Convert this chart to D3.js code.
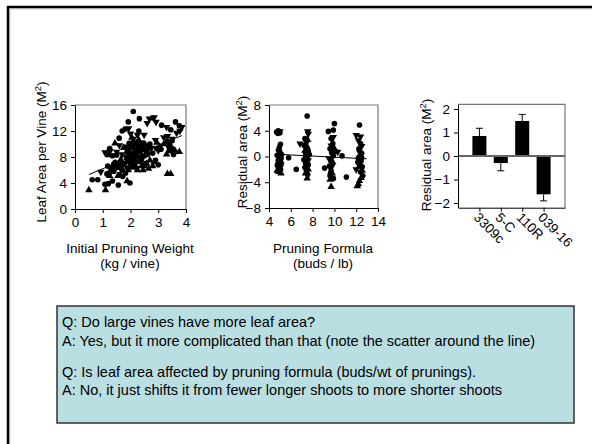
<!DOCTYPE html>
<html><head><meta charset="utf-8">
<script src="https://cdn.jsdelivr.net/npm/d3@7"></script>
<style>
body{margin:0;background:#fff;}
svg{display:block;font-family:"Liberation Sans",Arial,sans-serif;}
</style></head>
<body>
<svg id="c" width="592" height="444"></svg>
<script>
// ---------- DATA ----------
// Chart 1: Leaf area per vine vs initial pruning weight
const leafCircles = [[0.62,4.5],[0.82,4.5],[1.08,3.8],[1.2,3.9],[1.15,5.4],[1.25,5.6],[1.3,6.2],[1.4,5.8],[1.5,6.4],[1.56,3.7],[1.45,7.2],[1.6,5.3],[1.7,6.0],[1.75,6.8],[1.82,5.5],[1.98,4.0],[1.9,7.5],[1.95,8.2],[2.0,7.0],[2.05,7.8],[2.1,8.6],[2.15,9.2],[2.2,7.4],[2.25,8.0],[2.3,9.8],[2.0,9.9],[2.1,10.3],[2.2,10.0],[1.95,10.1],[2.35,8.8],[2.4,7.6],[2.45,9.4],[2.5,8.2],[2.15,6.8],[1.85,8.0],[1.9,6.3],[2.05,6.5],[1.59,10.9],[1.7,12.0],[1.8,12.3],[1.92,13.4],[2.1,15.0],[2.32,13.9],[2.8,14.0],[3.12,12.9],[3.45,12.2],[3.62,13.4],[3.76,12.8],[3.33,10.4],[3.42,9.8],[3.5,9.3],[3.4,9.0],[2.94,9.3],[2.8,8.6],[2.9,7.5],[3.0,6.8],[2.7,10.0],[2.6,9.0],[1.35,8.2],[1.5,8.3],[1.25,9.3],[1.65,6.3],[1.35,4.3],[2.3,12.0],[2.55,7.0],[2.62,8.4],[3.1,9.2],[3.5,10.5],[3.55,8.4],[2.0,8.4],[2.25,9.0],[2.12,7.3],[1.98,9.4],[2.08,9.7],[2.18,8.3],[2.28,10.4],[2.38,9.2],[2.02,7.5],[1.88,8.8],[2.42,8.1],[3.38,9.6],[3.52,8.8],[1.6,7.0],[1.4,6.9],[2.22,6.3],[2.48,10.1],[1.72,5.0],[1.18,6.6]];
const leafTriUp = [[0.5,2.9],[1.1,2.9],[1.88,4.3],[1.44,10.1],[1.2,8.3],[1.35,6.6],[1.55,5.1],[1.65,7.6],[1.85,7.2],[2.0,6.4],[2.1,9.4],[2.25,6.0],[2.45,6.0],[2.58,7.0],[2.7,7.5],[2.8,6.6],[2.85,7.2],[3.06,9.6],[3.76,8.8],[3.33,5.4],[3.45,5.4],[2.35,7.2],[2.2,8.7],[2.5,6.6],[2.95,10.2],[3.2,10.0],[1.75,9.4],[1.95,8.8],[2.15,7.8],[2.6,9.6],[1.25,5.1],[3.6,9.0],[3.3,8.4],[2.3,10.6],[2.05,11.0],[2.4,6.6],[2.65,6.2],[1.92,6.0]];
const leafTriDown = [[0.93,5.7],[1.08,8.7],[1.26,8.9],[1.5,8.8],[1.93,12.4],[2.0,11.6],[2.49,11.4],[2.6,13.2],[2.68,13.9],[2.85,14.1],[2.92,13.4],[3.33,11.2],[3.66,11.7],[3.78,12.0],[3.85,12.6],[3.3,12.6],[2.3,9.6],[2.4,10.2],[2.15,8.0],[1.8,7.0],[2.75,9.4],[3.0,9.0],[3.2,11.0],[1.4,6.0],[1.7,8.4],[2.55,8.8],[2.25,11.4],[3.5,10.8],[1.6,9.8],[2.9,10.6],[2.1,10.8],[1.85,9.6]];
const leafFitX = [0.5, 3.85];
const leafFitY = [5.3, 11.3];
const leafXTicks = [0,1,2,3,4];
const leafYTicks = [0,4,8,12,16];

// Chart 2: residual area vs pruning formula
const resCircles = [[4.7,3.8],[4.85,4.0],[5.0,3.7],[4.8,3.6],[5.05,1.9],[4.9,1.0],[5.0,0.6],[4.75,0.2],[5.1,-0.3],[4.85,-0.6],[5.0,-1.0],[4.9,-1.5],[5.05,-2.0],[4.8,-1.2],[5.15,0.3],[4.95,-0.1],[5.8,-0.2],[6.5,-2.0],[4.95,1.4],[5.1,-1.3],
 [7.5,6.3],[7.3,2.8],[7.45,1.5],[7.6,0.8],[7.35,0.2],[7.5,-0.4],[7.4,-0.8],[7.6,-1.3],[7.3,-1.7],[7.45,-2.3],[7.55,-2.8],[7.35,-1.0],[7.7,0.3],[7.2,-0.5],[7.55,1.1],[7.4,-1.9],
 [10.0,5.1],[9.45,3.9],[9.9,4.1],[9.7,2.8],[9.85,2.0],[9.6,1.2],[9.75,0.6],[9.9,0.1],[9.65,-0.4],[9.8,-1.0],[9.55,-1.5],[9.7,-2.2],[9.6,-3.0],[9.9,-3.4],[9.1,-1.8],[10.7,0.1],[11.1,-3.2],[10.1,0.8],[9.8,1.3],[9.65,-2.6],
 [12.3,4.9],[12.4,2.0],[12.25,1.2],[12.5,0.5],[12.2,-0.3],[12.45,-0.7],[12.3,-1.2],[12.55,-1.6],[12.15,-0.9],[12.4,-2.4],[12.6,-3.0],[12.35,0.1],[12.3,0.9],[12.5,-0.2]];
const resTriUp = [[4.9,-2.4],[5.1,-2.6],[4.75,-2.2],[5.0,-1.8],[4.95,0.4],[5.1,-0.8],
 [7.5,-3.4],[7.35,-2.6],[7.6,-2.0],[7.45,-0.1],[7.3,0.9],[7.55,2.6],[7.4,-1.4],
 [9.7,-4.7],[9.6,-3.6],[9.8,-2.6],[9.75,-0.6],[9.9,1.5],
 [12.1,-4.6],[12.2,-4.3],[12.3,-3.8],[12.45,-3.3],[12.55,-2.2],[12.25,-1.6]];
const resTriDown = [[5.0,3.9],[4.9,0.7],[5.05,-0.5],[4.8,-1.7],
 [6.85,2.0],[7.15,1.8],[7.55,3.9],[7.6,3.5],[7.45,2.2],[7.35,0.5],[7.6,-0.6],
 [10.3,0.7],[9.9,3.0],[9.7,1.7],[9.85,-1.3],[9.5,-0.3],
 [12.0,3.3],[12.4,3.1],[12.0,-2.0],[12.5,1.6],[12.3,-0.2],[12.2,2.5]];
const resFitX = [4.55, 12.96];
const resFitY = [0.36, -0.36];
const resXTicks = [4,6,8,10,12,14];
const resYTicks = [-8,-4,0,4,8];

// Chart 3: residual area by rootstock
const rootstocks = ["3309c","5-C","110R","039-16"];
const rootMeans = [0.85, -0.3, 1.49, -1.63];
const rootErr = [0.33, 0.33, 0.28, 0.28];
const rootYTicks = [-2,-1,0,1,2];

const notes = [
 "Q: Do large vines have more leaf area?",
 "A: Yes, but it more complicated than that (note the scatter around the line)",
 "",
 "Q: Is leaf area affected by pruning formula (buds/wt of prunings).",
 "A: No, it just shifts it from fewer longer shoots to more shorter shoots"
];

// ---------- DRAW ----------
const svg = d3.select("#c");
const FS = 13.5;
const fmt = d3.format("d");

// slide frame
svg.append("rect").attr("x",8).attr("y",7).attr("width",800).attr("height",800)
  .attr("fill","none").attr("stroke","#000").attr("stroke-width",2.5);
svg.append("rect").attr("x",9.8).attr("y",8.8).attr("width",800).attr("height",800)
  .attr("fill","none").attr("stroke","#999").attr("stroke-width",0.8);

const triUp = d3.symbol().type(d3.symbolTriangle).size(24);
const triDown = d3.symbol().type(d3.symbolTriangle).size(24);

function frame(g, x0, x1, y0, y1){
  g.append("path").attr("d",`M${x0},${y1}H${x1}V${y0}`).attr("fill","none")
   .attr("stroke","#777").attr("stroke-width",1.2);
}
function styleAxis(a){
  a.selectAll("path").attr("stroke","#000").attr("stroke-width",1);
  a.selectAll("line").attr("stroke","#000");
  a.selectAll("text").attr("font-size",FS).attr("fill","#000").attr("font-family","Liberation Sans, Arial");
}
function scatter(g, x, y, circ, up, down){
  g.selectAll(null).data(circ).join("circle")
    .attr("cx",d=>x(d[0])).attr("cy",d=>y(d[1])).attr("r",2.8).attr("fill","#000");
  g.selectAll(null).data(up).join("path").attr("d",triUp)
    .attr("transform",d=>`translate(${x(d[0])},${y(d[1])})`).attr("fill","#000");
  g.selectAll(null).data(down).join("path").attr("d",triDown)
    .attr("transform",d=>`translate(${x(d[0])},${y(d[1])}) rotate(180)`).attr("fill","#000");
}
function ylabel(x, yc, txt){
  const t = svg.append("text").attr("transform",`translate(${x},${yc}) rotate(-90)`)
    .attr("text-anchor","middle").attr("font-size",FS);
  t.append("tspan").text(txt);
  t.append("tspan").attr("font-size",9.5).attr("dy",-5.5).text("2");
  t.append("tspan").attr("dy",5.5).text(")");
}

// Chart 1
{
  const x = d3.scaleLinear().domain([0,4]).range([75,186]);
  const y = d3.scaleLinear().domain([0,16]).range([209,105]);
  const g = svg.append("g");
  frame(g, 75, 186, 209, 105);
  const ax = g.append("g").attr("transform","translate(0,209)")
    .call(d3.axisBottom(x).tickValues(leafXTicks).tickFormat(fmt).tickSize(4).tickSizeOuter(0).tickPadding(4));
  const ay = g.append("g").attr("transform","translate(75,0)")
    .call(d3.axisLeft(y).tickValues(leafYTicks).tickFormat(fmt).tickSize(4).tickSizeOuter(0).tickPadding(4));
  styleAxis(ax); styleAxis(ay);
  scatter(g, x, y, leafCircles, leafTriUp, leafTriDown);
  g.append("line").attr("x1",x(leafFitX[0])).attr("y1",y(leafFitY[0]))
    .attr("x2",x(leafFitX[1])).attr("y2",y(leafFitY[1])).attr("stroke","#000").attr("stroke-width",1);
  ylabel(46, 152, "Leaf Area per Vine (M");
  g.append("text").attr("x",130).attr("y",253).attr("text-anchor","middle").attr("font-size",FS).text("Initial Pruning Weight");
  g.append("text").attr("x",130).attr("y",268).attr("text-anchor","middle").attr("font-size",FS).text("(kg / vine)");
}

// Chart 2
{
  const x = d3.scaleLinear().domain([4,14]).range([269,378]);
  const y = d3.scaleLinear().domain([-8,8]).range([208,105]);
  const g = svg.append("g");
  frame(g, 269, 378, 208, 105);
  const ax = g.append("g").attr("transform","translate(0,208)")
    .call(d3.axisBottom(x).tickValues(resXTicks).tickFormat(fmt).tickSize(4).tickSizeOuter(0).tickPadding(4));
  const ay = g.append("g").attr("transform","translate(269,0)")
    .call(d3.axisLeft(y).tickValues(resYTicks).tickFormat(fmt).tickSize(4).tickSizeOuter(0).tickPadding(4));
  styleAxis(ax); styleAxis(ay);
  scatter(g, x, y, resCircles, resTriUp, resTriDown);
  g.append("line").attr("x1",x(resFitX[0])).attr("y1",y(resFitY[0]))
    .attr("x2",x(resFitX[1])).attr("y2",y(resFitY[1])).attr("stroke","#000").attr("stroke-width",1);
  ylabel(247, 152, "Residual area (M");
  g.append("text").attr("x",323).attr("y",253).attr("text-anchor","middle").attr("font-size",FS).text("Pruning Formula");
  g.append("text").attr("x",323).attr("y",268).attr("text-anchor","middle").attr("font-size",FS).text("(buds / lb)");
}

// Chart 3
{
  const x = d3.scalePoint().domain(rootstocks).range([458,565]).padding(1);
  const y = d3.scaleLinear().domain([-2.2,2.2]).range([207.7,104.3]);
  const g = svg.append("g");
  frame(g, 458, 565, 207.7, 104.3);
  const bw = 14;
  g.selectAll(null).data(rootstocks).join("rect")
    .attr("x",d=>x(d)-bw/2).attr("width",bw)
    .attr("y",(d,i)=>y(Math.max(0,rootMeans[i])))
    .attr("height",(d,i)=>Math.abs(y(rootMeans[i])-y(0)))
    .attr("fill","#000");
  rootstocks.forEach((d,i)=>{
    const m = rootMeans[i], e = m>=0 ? m+rootErr[i] : m-rootErr[i];
    g.append("line").attr("x1",x(d)).attr("x2",x(d)).attr("y1",y(m)).attr("y2",y(e)).attr("stroke","#000").attr("stroke-width",1);
    g.append("line").attr("x1",x(d)-3.5).attr("x2",x(d)+3.5).attr("y1",y(e)).attr("y2",y(e)).attr("stroke","#000").attr("stroke-width",1);
  });
  g.append("line").attr("x1",458).attr("x2",565).attr("y1",y(0)).attr("y2",y(0)).attr("stroke","#666").attr("stroke-width",2);
  const ay = g.append("g").attr("transform","translate(458,0)")
    .call(d3.axisLeft(y).tickValues(rootYTicks).tickFormat(fmt).tickSize(4).tickSizeOuter(0).tickPadding(4));
  styleAxis(ay);
  const ax = g.append("g").attr("transform","translate(0,207.7)")
    .call(d3.axisBottom(x).tickSize(4).tickSizeOuter(0).tickFormat(""));
  ax.selectAll("path").attr("stroke","#000"); ax.selectAll("line").attr("stroke","#000");
  g.selectAll(null).data(rootstocks).join("text")
    .attr("transform",d=>`translate(${x(d)-3},${215}) rotate(45)`)
    .attr("font-size",FS).attr("text-anchor","start").attr("dy","0.35em").text(d=>d);
  ylabel(431, 155, "Residual area (M");
}

// Notes box
svg.append("rect").attr("x",57).attr("y",306).attr("width",517).attr("height",117)
  .attr("fill","#b9dfe3").attr("stroke","#333").attr("stroke-width",1.5);
const nb = svg.append("text").attr("font-size",14.5);
const noteY = [327, 346, 361, 377, 395];
notes.forEach((s,i)=>{
  nb.append("tspan").attr("x",62).attr("y",noteY[i]).text(s);
});
</script>
</body></html>
